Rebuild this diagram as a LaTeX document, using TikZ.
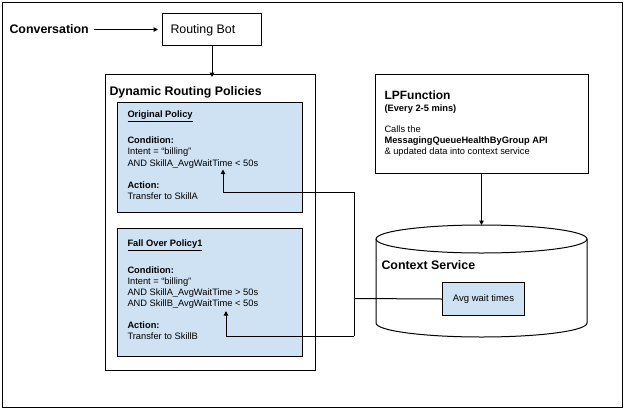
\documentclass[tikz,border=0pt]{standalone}
\usepackage{fontspec}
\setmainfont{Liberation Sans}
\usetikzlibrary{arrows.meta}
\definecolor{boxblue}{HTML}{CFE2F3}
\begin{document}
\begin{tikzpicture}[x=1pt,y=-1pt,line width=1pt,
  box/.style={draw=black,line width=1pt,minimum width=#1,inner sep=0pt,anchor=north west},
  bluebox/.style={box=#1,fill=boxblue},
  small/.style={font=\fontsize{9.3}{11}\selectfont,inner sep=0pt,anchor=base west},
  smallb/.style={font=\fontsize{9.3}{11}\selectfont\bfseries,inner sep=0pt,anchor=base west},
  big/.style={font=\fontsize{12.4}{14}\selectfont,inner sep=0pt,anchor=base west},
  bigb/.style={font=\fontsize{12.4}{14}\selectfont\bfseries,inner sep=0pt,anchor=base west},
  arr/.style={-{Triangle[length=4.5pt,width=4.5pt]}}]
\useasboundingbox (0,0) rectangle (624,408);
\node[box=620pt,minimum height=405pt] (frame) at (2,1.5) {};
% top row
\node[bigb] (conv) at (9,33.5) {Conversation};
\node[box=99pt,minimum height=32pt] (bot) at (162,13) {};
\node[big] (bottxt) at (170,33.5) {Routing Bot};
\draw[arr] ([xshift=5pt]conv.east|-bot.west) -- ([xshift=-4pt]bot.west);
% dynamic routing policies
\node[box=210pt,minimum height=296pt] (drp) at (105,74) {};
\node[bigb] (drptxt) at (109,95.5) {Dynamic Routing Policies};
\draw[arr] (bot.south) -- ([yshift=-3pt]drp.north-|bot.south);
% original policy
\node[bluebox=185pt,minimum height=110pt] (orig) at (117,102) {};
\node[smallb] (o1) at (127,117.5) {\underline{Original Policy}};
\node[smallb] (o2) at (127,143.5) {Condition:};
\node[small] (o3) at (127,154.5) {Intent = “billing”};
\node[small] (o4) at (127,166.5) {AND SkillA\_AvgWaitTime < 50s};
\node[smallb] (o5) at (127,188.5) {Action:};
\node[small] (o6) at (127,199.5) {Transfer to SkillA};
% fall over policy
\node[bluebox=185pt,minimum height=128pt] (fall) at (117,228) {};
\node[smallb] (f1) at (127,246.5) {\underline{Fall Over Policy1}};
\node[smallb] (f2) at (127,273.5) {Condition:};
\node[small] (f3) at (127,284.5) {Intent = “billing”};
\node[small] (f4) at (127,295.5) {AND SkillA\_AvgWaitTime > 50s};
\node[small] (f5) at (127,306.5) {AND SkillB\_AvgWaitTime < 50s};
\node[smallb] (f6) at (127,328.5) {Action:};
\node[small] (f7) at (127,339.5) {Transfer to SkillB};
% LPFunction
\node[box=213pt,minimum height=99pt] (lpf) at (375,74) {};
\node[font=\fontsize{12}{14}\selectfont\bfseries,inner sep=0pt,anchor=base west] (l1) at (384,99.5) {LPFunction};
\node[smallb] (l2) at (384,111.5) {(Every 2-5 mins)};
\node[small] (l3) at (384,132.5) {Calls the};
\node[smallb] (l4) at (384,143.5) {MessagingQueueHealthByGroup API};
\node[small] (l5) at (384,154.5) {\& updated data into context service};
% context service cylinder
\draw[fill=white] (376,239) -- (376,323) arc[start angle=180,end angle=0,x radius=105.5,y radius=14] -- (587,239);
\draw (481.5,239) ellipse [x radius=105.5,y radius=14];
\coordinate (ctxtop) at (481.5,225);
\node[bigb] (ctxtxt) at (381,269.5) {Context Service};
\node[bluebox=82pt,minimum height=33pt] (avg) at (442,282) {};
\node[font=\fontsize{9.5}{11}\selectfont,inner sep=0pt] (avgtxt) at (avg.center) {Avg wait times};
\draw[arr] (lpf.south-|ctxtop) -- (ctxtop);
% connectors from avg wait times
\coordinate (j) at (354,298.5);
\coordinate (ja) at (354,192);
\coordinate (jb) at (354,336);
\coordinate (tgtA) at (223,169.5);
\coordinate (tgtB) at (226,311);
\draw (avg.west) -- (j);
\draw (ja) -- (jb);
\draw[arr] (ja) -| (tgtA);
\draw[arr] (jb) -| (tgtB);
\end{tikzpicture}
\end{document}
